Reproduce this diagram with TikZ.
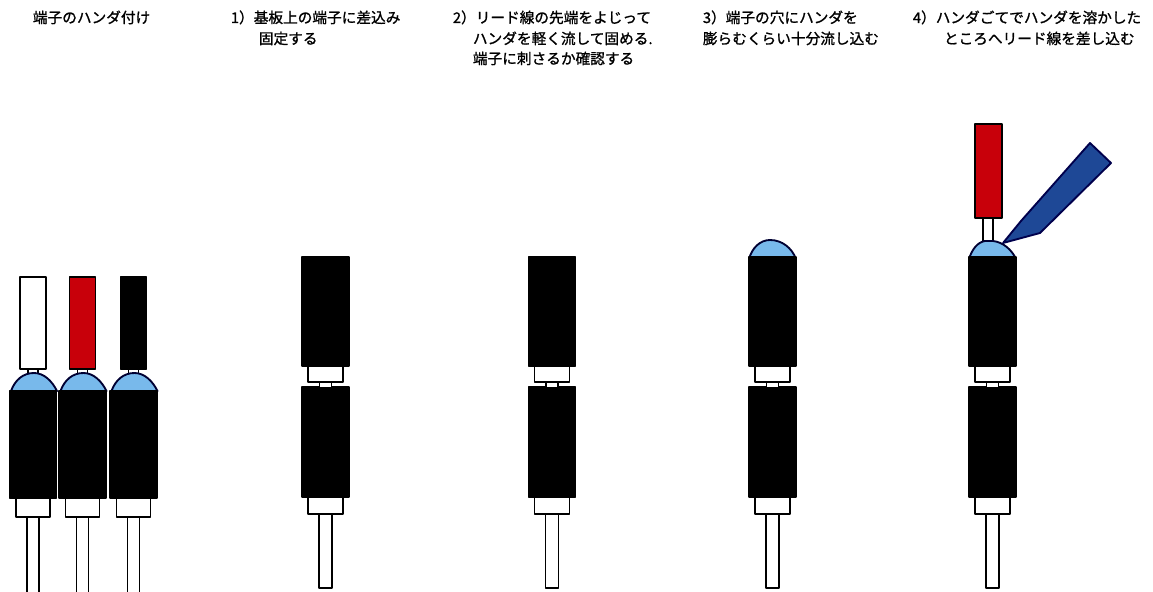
\documentclass[tikz,border=0pt]{standalone}
\usepackage{fontspec}
\setmainfont{Noto Sans CJK JP}
\newfontfamily\notefont[FakeBold=1.2]{Noto Sans CJK JP}
\definecolor{solder}{RGB}{120,185,235}
\definecolor{ironblue}{RGB}{30,72,150}
\definecolor{wirered}{RGB}{200,0,10}

\begin{document}
\begin{tikzpicture}[x=0.75pt,y=-0.75pt,line width=1.4pt,line join=round,
    body/.style={draw=black,fill=black},
    part/.style={draw=black,fill=white},
    bump/.style={draw=black!80!blue,fill=solder},
    notetext/.style={anchor=base west,inner sep=0pt,font=\notefont\fontsize{11}{15}\selectfont}]
  \useasboundingbox (0,0) rectangle (1153,592);
  \clip (0,0) rectangle (1153,592);

  % soldered terminals with white, red and black leads
  \foreach \c/\col in {33/white,82.5/wirered,133.5/black} {
    \draw [part] (\c-6,517) rectangle (\c+6,600);
    \draw [part] (\c-17,497) rectangle (\c+17,517);
    \draw [part] (\c-5,367) rectangle (\c+5,382);
    \draw [bump] (\c-22,391) .. controls (\c-18,380) and (\c-10,373) .. (\c+1,373)
      .. controls (\c+11,373) and (\c+19,381) .. (\c+24,391) -- cycle;
    \draw [body] (\c-23.5,391) rectangle (\c+23.5,498);
    \draw [draw=black,fill=\col] (\c-13,277) rectangle (\c+13,369);
  }

  % solder filled into the hole
  \draw [bump] (749,259) .. controls (752,248) and (760,240) .. (770,240)
    .. controls (782,240) and (792,248) .. (796,259) -- cycle;
  % lead pushed into molten solder
  \draw [part] (983,216) rectangle (993,244);
  \draw [bump] (969,259) .. controls (972,249) and (978,242) .. (985,241) -- (993,241)
    .. controls (1003,242) and (1012,250) .. (1016,259) -- cycle;
  \draw [draw=black,fill=wirered] (975,124) rectangle (1002,218);
  % soldering iron
  \draw [draw=black!70!blue,fill=ironblue] (1003,243) -- (1021,221) -- (1090,143)
    -- (1111,163) -- (1040,233) -- cycle;

  % terminal pairs on the board
  \foreach \c in {325.5,552,772.5,992.5} {
    \draw [part] (\c-6.5,514) rectangle (\c+6.5,588);
    \draw [part] (\c-17.5,497) rectangle (\c+17.5,514);
    \draw [body] (\c-23.5,387) rectangle (\c+23.5,497);
    \draw [part] (\c-6,382) rectangle (\c+6,388);
    \draw [part] (\c-17.5,366) rectangle (\c+17.5,382);
    \draw [body] (\c-23.5,257) rectangle (\c+23.5,366);
  }

  \node [notetext] (title) at (32,23) {端子のハンダ付け};
  \node [notetext] (s1a) at (230,23) {1）基板上の端子に差込み};
  \node [notetext] (s1b) at (258,44) {固定する};
  \node [notetext] (s2a) at (452,23) {2）リード線の先端をよじって};
  \node [notetext] (s2b) at (472,44) {ハンダを軽く流して固める.};
  \node [notetext] (s2c) at (472,64) {端子に刺さるか確認する};
  \node [notetext] (s3a) at (702,23) {3）端子の穴にハンダを};
  \node [notetext] (s3b) at (702,44) {膨らむくらい十分流し込む};
  \node [notetext] (s4a) at (912,23) {4）ハンダごてでハンダを溶かした};
  \node [notetext] (s4b) at (943,44) {ところへリード線を差し込む};
\end{tikzpicture}
\end{document}
